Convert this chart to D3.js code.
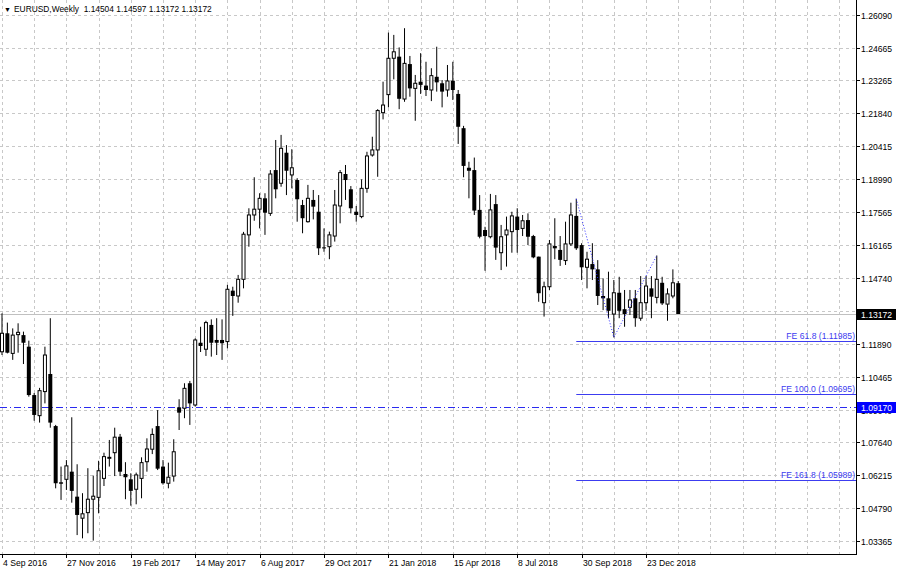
<!DOCTYPE html>
<html><head><meta charset="utf-8">
<script src="https://cdn.jsdelivr.net/npm/d3@7"></script>
<style>
body{margin:0;background:#fff;}
svg text{font-family:"Liberation Sans",Arial,sans-serif;font-size:8.6px;}
</style>
</head><body>
<svg id="chart" width="899" height="570"></svg>
<script>
// ---- DATA (EURUSD weekly, first bar = week of 4 Sep 2016) ----
const opens = [1.1154,1.1234,1.1147,1.1228,1.1226,1.1176,1.0967,1.0878,1.0982,1.1058,
1.0833,1.0590,1.0603,1.0636,1.0528,1.0435,1.0459,1.0517,1.0525,1.0607,
1.0694,1.0718,1.0787,1.0626,1.0603,1.0560,1.0607,1.0679,1.0733,1.0833,
1.0658,1.0586,1.0617,1.0914,1.0910,1.1018,1.0924,1.1193,1.1165,1.1270,
1.1205,1.1205,1.1198,1.1418,1.1395,1.1467,1.1659,1.1745,1.1770,1.1817,
1.1752,1.1939,1.1882,1.2014,1.1918,1.1896,1.1788,1.1716,1.1810,1.1759,
1.1605,1.1608,1.1654,1.1784,1.1922,1.1856,1.1759,1.1738,1.1860,1.2004,
1.2026,1.2187,1.2265,1.2422,1.2429,1.2246,1.2397,1.2292,1.2321,1.2304,
1.2285,1.2342,1.2314,1.2285,1.2325,1.2268,1.2120,1.1949,1.1939,1.1767,
1.1680,1.1651,1.1792,1.1582,1.1659,1.1673,1.1738,1.1687,1.1723,1.1654,
1.1565,1.1366,1.1435,1.1611,1.1594,1.1548,1.1620,1.1741,1.1615,1.1519,
1.1533,1.1510,1.1395,1.1385,1.1317,1.1409,1.1338,1.1346,1.1385,1.1299,
1.1366,1.1428,1.1389,1.1452,1.1360,1.1395,1.14504];
const highs = [1.1320,1.1280,1.1255,1.1277,1.1241,1.1202,1.0976,1.0998,1.1176,1.1299,
1.0838,1.0658,1.0686,1.0871,1.0668,1.0543,1.0651,1.0619,1.0683,1.0718,
1.0773,1.0826,1.0799,1.0677,1.0629,1.0632,1.0698,1.0780,1.0823,1.0902,
1.0686,1.0675,1.0776,1.0949,1.1018,1.1028,1.1212,1.1262,1.1288,1.1294,
1.1299,1.1294,1.1443,1.1435,1.1486,1.1672,1.1774,1.1908,1.1839,1.1839,
1.1939,1.2069,1.2091,1.2047,1.2029,1.1904,1.1810,1.1875,1.1853,1.1831,
1.1687,1.1673,1.1853,1.1939,1.1961,1.1870,1.1784,1.1899,1.2018,1.2083,
1.2202,1.2321,1.2533,1.2523,1.2469,1.2552,1.2432,1.2350,1.2444,1.2407,
1.2379,1.2472,1.2328,1.2393,1.2407,1.2285,1.2130,1.1975,1.1993,1.1831,
1.1694,1.1836,1.1831,1.1702,1.1738,1.1759,1.1774,1.1745,1.1752,1.1659,
1.1565,1.1457,1.1637,1.1731,1.1654,1.1716,1.1798,1.1815,1.1623,1.1586,
1.1623,1.1550,1.1471,1.1500,1.1464,1.1478,1.1421,1.1421,1.1421,1.1481,
1.1481,1.1481,1.1570,1.1478,1.1428,1.1510,1.14597];
const lows = [1.1140,1.1147,1.1119,1.1150,1.1101,1.0960,1.0856,1.0848,1.0931,1.0826,
1.0564,1.0514,1.0557,1.0502,1.0362,1.0348,1.0370,1.0338,1.0456,1.0574,
1.0658,1.0617,1.0617,1.0517,1.0489,1.0495,1.0521,1.0636,1.0712,1.0643,
1.0580,1.0564,1.0593,1.0816,1.0867,1.0838,1.0917,1.1153,1.1136,1.1133,
1.1140,1.1119,1.1169,1.1309,1.1366,1.1428,1.1608,1.1720,1.1687,1.1659,
1.1741,1.1817,1.1867,1.1831,1.1860,1.1716,1.1666,1.1712,1.1726,1.1572,
1.1586,1.1554,1.1630,1.1709,1.1810,1.1752,1.1716,1.1731,1.1841,1.1997,
1.1910,1.2158,1.2210,1.2331,1.2202,1.2234,1.2256,1.2152,1.2268,1.2259,
1.2237,1.2278,1.2210,1.2256,1.2242,1.2052,1.1908,1.1817,1.1745,1.1644,
1.1504,1.1644,1.1551,1.1507,1.1522,1.1582,1.1582,1.1654,1.1615,1.1558,
1.1370,1.1306,1.1421,1.1554,1.1525,1.1529,1.1611,1.1594,1.1464,1.1428,
1.1464,1.1356,1.1334,1.1299,1.1216,1.1299,1.1262,1.1313,1.1262,1.1288,
1.1331,1.1299,1.1363,1.1356,1.1288,1.1385,1.13172];
const closes = [1.1234,1.1150,1.1226,1.1238,1.1193,1.0967,1.0881,1.0986,1.1140,1.0848,
1.0586,1.0584,1.0661,1.0553,1.0449,1.0454,1.0517,1.0530,1.0640,1.0701,
1.0698,1.0785,1.0636,1.0612,1.0553,1.0622,1.0675,1.0734,1.0797,1.0649,
1.0586,1.0612,1.0722,1.0891,1.0996,1.0931,1.1205,1.1179,1.1280,1.1193,
1.1193,1.1191,1.1424,1.1395,1.1467,1.1662,1.1745,1.1770,1.1817,1.1755,
1.1922,1.1856,1.2033,1.1936,1.1949,1.1813,1.1731,1.1817,1.1781,1.1601,
1.1601,1.1659,1.1788,1.1928,1.1896,1.1774,1.1745,1.1860,1.2000,1.2026,
1.2196,1.2220,1.2422,1.2450,1.2247,1.2400,1.2292,1.2314,1.2307,1.2285,
1.2347,1.2318,1.2278,1.2324,1.2285,1.2126,1.1957,1.1936,1.1764,1.1651,
1.1654,1.1767,1.1604,1.1651,1.1680,1.1741,1.1680,1.1720,1.1651,1.1562,
1.1407,1.1435,1.1620,1.1601,1.1551,1.1620,1.1745,1.1601,1.1519,1.1554,
1.1510,1.1395,1.1385,1.1331,1.1409,1.1331,1.1317,1.1378,1.1299,1.1366,
1.1438,1.1392,1.1467,1.1363,1.1404,1.1452,1.13172];

const xTickLabels = ["4 Sep 2016","27 Nov 2016","19 Feb 2017","14 May 2017","6 Aug 2017","29 Oct 2017","21 Jan 2018","15 Apr 2018","8 Jul 2018","30 Sep 2018","23 Dec 2018"];
const xTickBars = [0,12,24,36,48,60,72,84,96,108,120];
const yTicks = [1.26090,1.24665,1.23265,1.21840,1.20415,1.18990,1.17565,1.16165,1.14740,1.13315,1.11890,1.10465,1.09040,1.07640,1.06215,1.04790,1.03365];
const feLevels = [1.11985,1.09695,1.05989];
const feNames = ["FE 61.8","FE 100.0","FE 161.8"];
const zigzagBars = [107,114,122];
const zigzagPrices = [1.1815,1.1216,1.1570];
const hLinePrice = 1.09170;
const title = "EURUSD,Weekly  1.14504 1.14597 1.13172 1.13172";

// ---- LAYOUT ----
const W = 899, H = 570, plotRight = 856, plotBottom = 554;
const svg = d3.select("#chart");
const n = closes.length;
const x = d3.scaleLinear().domain([0, 159.12]).range([2, plotRight]);
const y = d3.scaleLinear().domain([1.02803, 1.26738]).range([plotBottom, 0]);

svg.append("rect").attr("width",W).attr("height",H).attr("fill","#fff");

// grid
const grid = svg.append("g").attr("stroke","#c8c8c8").attr("stroke-width",1).attr("stroke-dasharray","3,3");
grid.selectAll("line.h").data(yTicks).join("line")
  .attr("x1",0).attr("x2",plotRight)
  .attr("y1",d=>Math.round(y(d))+0.5).attr("y2",d=>Math.round(y(d))+0.5);
grid.selectAll("line.v").data(d3.range(0,160,6)).join("line")
  .attr("x1",d=>Math.round(x(d))+0.5).attr("x2",d=>Math.round(x(d))+0.5)
  .attr("y1",0).attr("y2",plotBottom);

// last price line
svg.append("line").attr("x1",0).attr("x2",plotRight)
  .attr("y1",Math.round(y(closes[n-1]))+0.5).attr("y2",Math.round(y(closes[n-1]))+0.5)
  .attr("stroke","#c0c0c0").attr("stroke-width",1);

// horizontal dash-dot line
svg.append("line").attr("x1",0).attr("x2",plotRight)
  .attr("y1",Math.round(y(hLinePrice))+0.5).attr("y2",Math.round(y(hLinePrice))+0.5)
  .attr("stroke","#2a2af0").attr("stroke-width",1).attr("stroke-dasharray","7,3,1,3");

// FE lines
const fe = svg.append("g");
fe.selectAll("line").data(feLevels).join("line")
  .attr("x1",x(zigzagBars[0])).attr("x2",plotRight)
  .attr("y1",d=>Math.round(y(d))+0.5).attr("y2",d=>Math.round(y(d))+0.5)
  .attr("stroke","#3c3cf0").attr("stroke-width",1);
fe.selectAll("text").data(feLevels).join("text")
  .attr("x",plotRight-1).attr("y",d=>Math.round(y(d))-2)
  .attr("text-anchor","end").attr("fill","#3c3cf0")
  .text((d,i)=>`${feNames[i]} (${d.toFixed(5)})`);

// candles
const candles = svg.append("g");
const idx = d3.range(n);
candles.selectAll("line").data(idx).join("line")
  .attr("x1",i=>x(i)).attr("x2",i=>x(i))
  .attr("y1",i=>y(highs[i])).attr("y2",i=>y(lows[i]))
  .attr("stroke","#000").attr("stroke-width",1);
candles.selectAll("rect").data(idx).join("rect")
  .attr("x",i=>closes[i]>=opens[i]? x(i)-1.5 : x(i)-2)
  .attr("width",i=>closes[i]>=opens[i]? 3 : 4)
  .attr("y",i=>closes[i]>=opens[i]? y(closes[i]) : y(opens[i]))
  .attr("height",i=>Math.max(1,Math.abs(y(opens[i])-y(closes[i]))))
  .attr("fill",i=>closes[i]>=opens[i]?"#fff":"#000")
  .attr("stroke",i=>closes[i]>=opens[i]?"#000":"none")
  .attr("stroke-width",1);

// zigzag
svg.append("path")
  .attr("d",d3.line()(zigzagBars.map((b,k)=>[x(b),y(zigzagPrices[k])])))
  .attr("fill","none").attr("stroke","#3030ff").attr("stroke-width",1).attr("stroke-dasharray","1,2");

// axes frame
svg.append("line").attr("x1",plotRight+0.5).attr("x2",plotRight+0.5).attr("y1",0).attr("y2",plotBottom+1).attr("stroke","#000");
svg.append("line").attr("x1",0).attr("x2",plotRight+1).attr("y1",plotBottom+0.5).attr("y2",plotBottom+0.5).attr("stroke","#000");

// y ticks
const yt = svg.append("g");
yt.selectAll("line").data(yTicks).join("line")
  .attr("x1",plotRight).attr("x2",plotRight+4)
  .attr("y1",d=>Math.round(y(d))+0.5).attr("y2",d=>Math.round(y(d))+0.5).attr("stroke","#000");
yt.selectAll("text").data(yTicks).join("text")
  .attr("x",plotRight+5).attr("y",d=>Math.round(y(d))+3.5)
  .attr("fill","#000").text(d=>d.toFixed(5));

// x ticks
const xt = svg.append("g");
xt.selectAll("line").data(xTickBars).join("line")
  .attr("x1",d=>Math.round(x(d))+0.5).attr("x2",d=>Math.round(x(d))+0.5)
  .attr("y1",plotBottom).attr("y2",plotBottom+4).attr("stroke","#000");
xt.selectAll("text").data(xTickBars).join("text")
  .attr("x",d=>Math.round(x(d))+1).attr("y",plotBottom+11.5)
  .attr("fill","#000").text((d,i)=>xTickLabels[i]);

// price labels on axis
function priceBox(v, bg){
  const yy = Math.round(y(v));
  svg.append("rect").attr("x",plotRight+1).attr("y",yy-5).attr("width",39).attr("height",11).attr("fill",bg);
  svg.append("text").attr("x",plotRight+5).attr("y",yy+3.5).attr("fill","#fff").text(v.toFixed(5));
}
priceBox(hLinePrice,"#0000ff");
priceBox(closes[n-1],"#000");

// title
svg.append("text").attr("x",4).attr("y",12).style("font-size","7px").attr("fill","#000").text("▼");
svg.append("text").attr("x",14).attr("y",12).style("font-size","8.4px").attr("fill","#000").style("white-space","pre").text(title);
</script>
</body></html>
